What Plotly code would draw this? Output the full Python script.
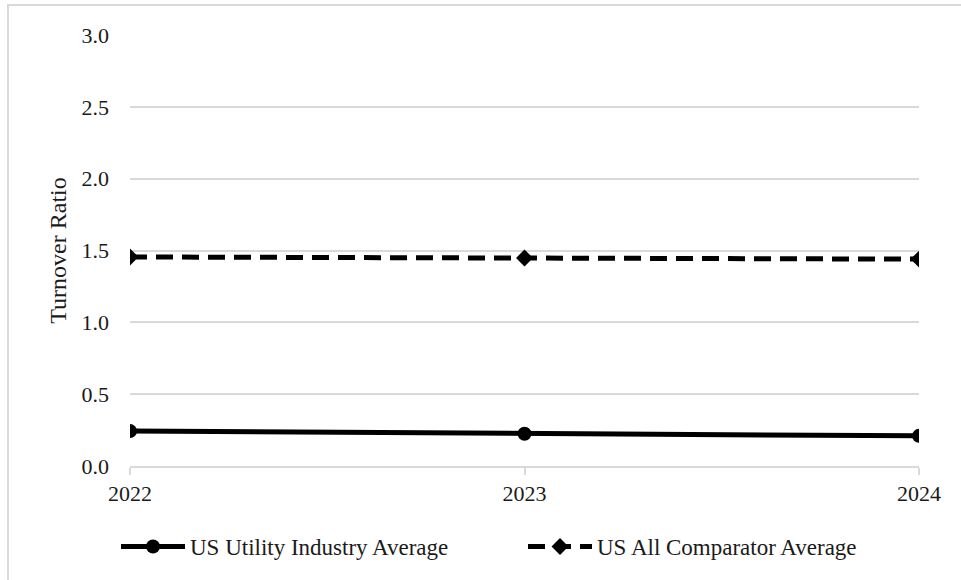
import plotly.graph_objects as go

years = ["2022", "2023", "2024"]
utility_avg = [0.243, 0.225, 0.21]
comparator_avg = [1.455, 1.448, 1.44]
series_names = ["US Utility Industry Average", "US All Comparator Average"]
y_ticks = [0, 0.5, 1.0, 1.5, 2.0, 2.5, 3.0]

font = "Liberation Serif, Times New Roman, serif"
txt = "#1a1a1a"

fig = go.Figure()
fig.add_trace(go.Scatter(
    x=[0, 1, 2], y=utility_avg, name=series_names[0], mode="lines+markers",
    line=dict(color="black", width=5),
    marker=dict(symbol="circle", size=14, color="black"),
))
fig.add_trace(go.Scatter(
    x=[0, 1, 2], y=comparator_avg, name=series_names[1], mode="lines+markers",
    line=dict(color="black", width=5, dash="17px,9px"),
    marker=dict(symbol="diamond", size=13, color="black"),
))

fig.update_layout(
    width=961, height=580,
    margin=dict(l=130, r=42, t=35, b=114),
    paper_bgcolor="white", plot_bgcolor="white",
    font=dict(family=font, size=22, color=txt),
    showlegend=True,
    legend=dict(orientation="h",
                x=(116 - 130) / 789, xanchor="left", y=(466 - 525) / 431, yanchor="top",
                font=dict(family=font, size=23, color=txt),
                entrywidth=328, entrywidthmode="pixels",
                itemwidth=64, tracegroupgap=0),
    xaxis=dict(
        range=[0, 2], tickvals=[0, 1, 2], ticktext=years,
        showgrid=False, zeroline=False,
        showline=True, linecolor="#d9d9d9", linewidth=1.5,
        ticks="outside", ticklen=7, tickcolor="#d9d9d9", tickwidth=1.5,
        tickfont=dict(family=font, size=22, color=txt),
    ),
    yaxis=dict(
        range=[0, 3.0], tickvals=y_ticks, tickformat=".1f",
        showgrid=True, gridcolor="#d9d9d9", gridwidth=1.5,
        zeroline=False, showline=False, ticks="",
        ticklabelstandoff=20,
        title=dict(text="Turnover Ratio", font=dict(family=font, size=24, color=txt), standoff=8),
        tickfont=dict(family=font, size=22, color=txt),
    ),
)

fig.add_shape(type="rect", xref="paper", yref="paper",
              x0=(8 - 130) / 789, x1=1.2, y0=-0.4, y1=(466 - 5) / 431,
              line=dict(color="#d9d9d9", width=2), layer="below")

fig.write_html("out.html")
